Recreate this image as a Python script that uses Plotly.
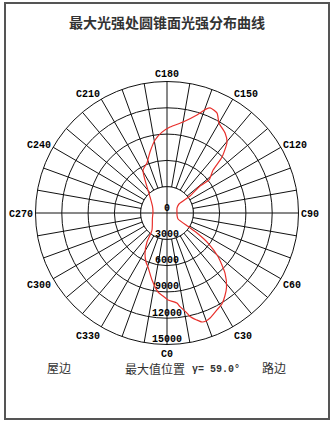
import plotly.graph_objects as go

# ---- data ----
title_text = "最大光强处圆锥面光强分布曲线"
c_angles = [0.7, 6.3, 7.9, 11.3, 12.5, 15.5, 17.8, 19.9, 22.3, 27.3, 31.1, 35.0, 38.8,
            43.9, 49.4, 53.8, 56.3, 57.5, 61.4, 75.0, 95.7, 116.6, 126.9, 126.5, 129.3,
            128.2, 133.0, 135.5, 139.8, 144.0, 150.0, 153.4, 157.7, 159.4, 163.0, 170.0,
            178.0, 183.5, 189.3, 195.6, 201.8, 209.2, 213.7, 226.7, 245.0, 265.9, 290.0,
            318.6, 325.4, 331.2, 336.8, 340.6, 347.4, 353.5, 357.2]
intensity = [9920, 10340, 10790, 11640, 12090, 12660, 13060, 13100, 12950, 12430, 12130,
             11520, 10840, 9550, 7680, 5800, 4110, 2880, 1430, 1190, 1140, 1280, 1710,
             3260, 4860, 6090, 7190, 8960, 10610, 11270, 11860, 12750, 12950, 12660,
             11690, 10540, 9810, 9240, 8440, 7220, 6150, 5610, 4530, 2660, 1830, 1600,
             1770, 2590, 4020, 5210, 6080, 6530, 7840, 9070, 9480]
ring_values = [3000, 6000, 9000, 12000, 15000]
ring_labels = ["0", "3000", "6000", "9000", "12000", "15000"]
label_r = [0, 3000, 6000, 9000, 12000, 15000]
grid_angles = list(range(0, 360, 10))
angle_labels = [f"C{a}" if a % 30 == 0 else "" for a in grid_angles]
bottom_left = "屋边"
bottom_mid = "最大值位置"
gamma_text = "γ= 59.0°"
bottom_right = "路边"

W, H = 334, 422
cx, cy, R = 167, 213, 131.5
INK = "#111111"

fig = go.Figure()

# white inner disc hides spokes inside the first ring
disc_theta = list(range(0, 361, 2))
fig.add_trace(go.Scatterpolar(r=[ring_values[0]] * len(disc_theta), theta=disc_theta,
                              mode="lines", fill="toself", fillcolor="white",
                              line=dict(color=INK, width=1), hoverinfo="skip",
                              showlegend=False))
# cross lines through the centre
fig.add_trace(go.Scatterpolar(r=[ring_values[0], 0, ring_values[0]], theta=[0, 0, 180],
                              mode="lines", line=dict(color=INK, width=1),
                              hoverinfo="skip", showlegend=False))
fig.add_trace(go.Scatterpolar(r=[ring_values[0], 0, ring_values[0]], theta=[90, 90, 270],
                              mode="lines", line=dict(color=INK, width=1),
                              hoverinfo="skip", showlegend=False))
# intensity curve
fig.add_trace(go.Scatterpolar(r=intensity + intensity[:1], theta=c_angles + c_angles[:1],
                              mode="lines", line=dict(color="#e8302c", width=1.2, shape="spline",
                                                      smoothing=0.6),
                              hoverinfo="skip", showlegend=False))
# ring value labels
fig.add_trace(go.Scatterpolar(r=label_r, theta=[0] * len(label_r), mode="text",
                              text=ring_labels, textposition="top center",
                              textfont=dict(family="Liberation Mono", size=10, color="#000000",
                                            weight="bold"),
                              hoverinfo="skip", showlegend=False))

fig.update_layout(
    width=W, height=H, margin=dict(l=0, r=0, t=0, b=0),
    paper_bgcolor="white", plot_bgcolor="white", showlegend=False,
    polar=dict(
        domain=dict(x=[(cx - R) / W, (cx + R) / W],
                    y=[(H - cy - R) / H, (H - cy + R) / H]),
        bgcolor="white",
        angularaxis=dict(direction="counterclockwise", rotation=270,
                         tickmode="array", tickvals=grid_angles, ticktext=angle_labels,
                         showgrid=True, gridcolor=INK, gridwidth=1,
                         showline=True, linecolor=INK, linewidth=1, ticks="",
                         tickfont=dict(family="Liberation Mono", size=10, color="#000000",
                                       weight="bold")),
        radialaxis=dict(range=[0, 15000], tickmode="array", tickvals=ring_values,
                        showgrid=True, gridcolor=INK, gridwidth=1,
                        showline=False, showticklabels=False, ticks=""),
    ),
    shapes=[dict(type="rect", xref="paper", yref="paper",
                 x0=5 / W, x1=329 / W, y0=1 - 419 / H, y1=1 - 3 / H,
                 line=dict(color="#555", width=2))],
    annotations=[
        dict(text=title_text, x=167 / W, y=1 - 22 / H, xref="paper", yref="paper",
             yanchor="middle", showarrow=False,
             font=dict(family="Noto Sans CJK SC", size=14, color="#333", weight="bold")),
        dict(text=bottom_left, x=45 / W, y=1 - 367 / H, xref="paper", yref="paper",
             yanchor="middle", showarrow=False,
             font=dict(family="Noto Sans CJK SC", size=12, color="#333")),
        dict(text=bottom_mid, x=155 / W, y=1 - 368 / H, xref="paper", yref="paper",
             yanchor="middle", showarrow=False,
             font=dict(family="Noto Sans CJK SC", size=12, color="#333")),
        dict(text=gamma_text, x=216 / W, y=1 - 369 / H, xref="paper", yref="paper",
             yanchor="middle", showarrow=False,
             font=dict(family="Liberation Mono", size=10, color="#333", weight="bold")),
        dict(text=bottom_right, x=288 / W, y=1 - 367 / H, xref="paper", yref="paper",
             yanchor="middle", showarrow=False,
             font=dict(family="Noto Sans CJK SC", size=12, color="#333")),
    ],
)

fig.write_html("out.html")
